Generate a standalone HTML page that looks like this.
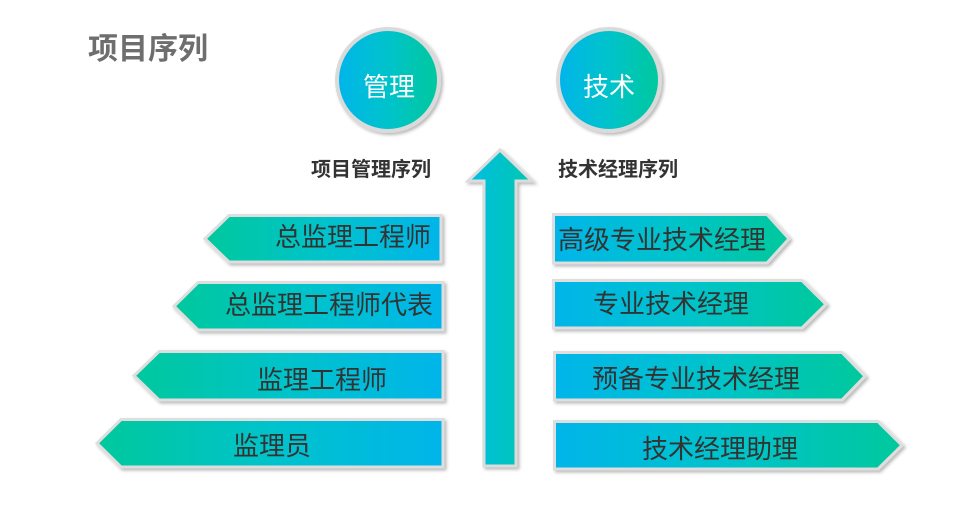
<!DOCTYPE html>
<html>
<head>
<meta charset="utf-8">
<style>
  html,body{margin:0;padding:0;background:#fff;}
  svg{display:block;}
  text{font-family:"Liberation Sans","Noto Sans CJK SC","WenQuanYi Zen Hei",sans-serif;}
</style>
</head>
<body>
<svg width="980" height="511" viewBox="0 0 980 511" xmlns="http://www.w3.org/2000/svg">
  <defs>
    <linearGradient id="gL" x1="0" y1="0" x2="1" y2="0">
      <stop offset="0" stop-color="#00c89c"/>
      <stop offset="0.5" stop-color="#03c3cb"/>
      <stop offset="1" stop-color="#04b5ea"/>
    </linearGradient>
    <linearGradient id="gR" x1="0" y1="0" x2="1" y2="0">
      <stop offset="0" stop-color="#04b5ea"/>
      <stop offset="0.5" stop-color="#03c3cb"/>
      <stop offset="1" stop-color="#00c89c"/>
    </linearGradient>
    <linearGradient id="gA" x1="0" y1="0" x2="1" y2="0">
      <stop offset="0" stop-color="#06bde2"/>
      <stop offset="1" stop-color="#00c8b0"/>
    </linearGradient>
    <filter id="sh" x="-10%" y="-10%" width="130%" height="130%">
      <feDropShadow dx="2" dy="2" stdDeviation="1.5" flood-color="#000" flood-opacity="0.28"/>
    </filter>
  </defs>

  <!-- Title -->
  <text x="88" y="59" font-size="30" font-weight="bold" fill="#6e6e6e">项目序列</text>

  <!-- Circles -->
  <circle cx="388" cy="80" r="51" fill="url(#gR)" stroke="#dadada" stroke-width="4" filter="url(#sh)"/>
  <text x="389" y="96" font-size="26" fill="#fff" text-anchor="middle">管理</text>
  <circle cx="609" cy="80" r="51" fill="url(#gR)" stroke="#dadada" stroke-width="4" filter="url(#sh)"/>
  <text x="609" y="96" font-size="26" fill="#fff" text-anchor="middle">技术</text>

  <!-- Labels -->
  <text x="311" y="176" font-size="20" font-weight="bold" fill="#333">项目管理序列</text>
  <text x="558" y="176" font-size="20" font-weight="bold" fill="#333">技术经理序列</text>

  <!-- Center arrow -->
  <polygon points="500,150 532,181 516,181 516,466 484,466 484,181 468,181" fill="url(#gA)" stroke="#dcdcdc" stroke-width="3" filter="url(#sh)"/>

  <!-- Left shapes -->
  <g stroke="#dedede" stroke-width="3" filter="url(#sh)" fill="url(#gL)">
    <polygon points="205,238.75 229,215.5 441,215.5 441,262 229,262"/>
    <polygon points="174,306.25 198,282.5 443,282.5 443,330 198,330"/>
    <polygon points="134,375.75 159,351.5 443,351.5 443,400 159,400"/>
    <polygon points="97,443.25 121,419.5 443,419.5 443,467 121,467"/>
  </g>
  <g font-size="26" fill="#333">
    <text x="275" y="246">总监理工程师</text>
    <text x="225" y="314">总监理工程师代表</text>
    <text x="257" y="389">监理工程师</text>
    <text x="233" y="455">监理员</text>
  </g>

  <!-- Right shapes -->
  <g stroke="#dedede" stroke-width="3" filter="url(#sh)" fill="url(#gR)">
    <polygon points="553.5,214.5 767,214.5 789,238.75 767,263 553.5,263"/>
    <polygon points="553.5,280.5 802,280.5 826,304.25 802,328 553.5,328"/>
    <polygon points="554.5,352.5 842,352.5 865,376.25 842,400 554.5,400"/>
    <polygon points="554.5,421.5 878,421.5 902,445.25 878,469 554.5,469"/>
  </g>
  <g font-size="26" fill="#333">
    <text x="558" y="249">高级专业技术经理</text>
    <text x="593" y="313">专业技术经理</text>
    <text x="592" y="388">预备专业技术经理</text>
    <text x="642" y="458">技术经理助理</text>
  </g>
</svg>
</body>
</html>
